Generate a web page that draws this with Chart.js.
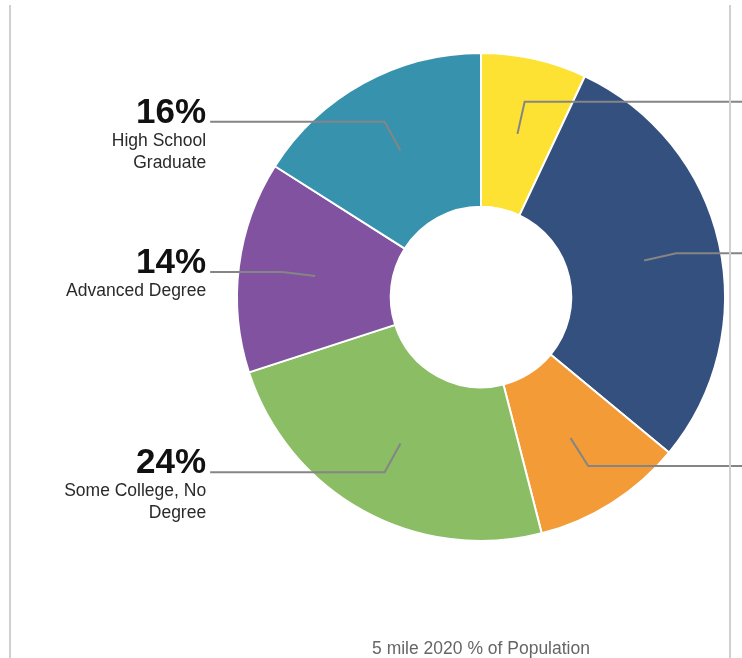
<!DOCTYPE html>
<html>
<head>
<meta charset="utf-8">
<script src="https://cdn.jsdelivr.net/npm/chart.js@4.4.0/dist/chart.umd.min.js"></script>
<style>
  html, body { margin: 0; padding: 0; background: #fff; overflow: hidden; }
  #wrap { position: relative; width: 742px; height: 658px; }
  #frame {
    position: absolute; left: 9px; top: 5px; width: 718px; height: 660px;
    border-left: 2px solid #d0d0d0; border-right: 2px solid #d0d0d0;
    pointer-events: none;
  }
</style>
</head>
<body>
<div id="wrap">
  <canvas id="eduChart" width="742" height="658"></canvas>
  <div id="frame"></div>
</div>
<script>
var categories = ['Associate Degree', "Bachelor's Degree", 'Less Than High School',
                  'Some College, No Degree', 'Advanced Degree', 'High School Graduate'];
var labelLines = [['Associate Degree'], ["Bachelor's Degree"], ['Less Than High', 'School'],
                  ['Some College, No', 'Degree'], ['Advanced Degree'], ['High School', 'Graduate']];
var shares = [7, 29, 10, 24, 14, 16];
var colors = ['#fee233', '#34507e', '#f39b36', '#8bbd64', '#8152a0', '#3792ae'];
var chartTitle = '5 mile 2020 % of Population';

var leaderPlugin = {
    id: 'leaders',
    afterDatasetsDraw: function (chart) {
        var ctx = chart.ctx;
        var arcs = chart.getDatasetMeta(0).data;
        ctx.save();
        for (var i = 0; i < arcs.length; i++) {
            var a = arcs[i];
            var mid = (a.startAngle + a.endAngle) / 2;
            var r0 = (a.innerRadius + a.outerRadius) / 2;
            var r1 = a.outerRadius * 0.82;
            var x0 = a.x + Math.cos(mid) * r0, y0 = a.y + Math.sin(mid) * r0;
            var x1 = a.x + Math.cos(mid) * r1, y1 = a.y + Math.sin(mid) * r1;
            var right = Math.cos(mid) >= 0;
            var x2 = right ? a.x + a.outerRadius * 1.11 : a.x - a.outerRadius * 1.11;

            ctx.strokeStyle = '#858585';
            ctx.lineWidth = 2;
            ctx.beginPath();
            ctx.moveTo(x0, y0);
            ctx.lineTo(x1, y1);
            ctx.lineTo(x2, y1);
            ctx.stroke();

            var tx = right ? x2 + 4 : x2 - 4;
            ctx.textAlign = right ? 'left' : 'right';
            ctx.textBaseline = 'alphabetic';
            ctx.fillStyle = '#111';
            ctx.font = 'bold 35px "Liberation Sans", Arial, sans-serif';
            ctx.fillText(shares[i] + '%', tx, y1 + 1);
            ctx.fillStyle = '#2a2a2a';
            ctx.font = '17.5px "Liberation Sans", Arial, sans-serif';
            var lines = labelLines[i];
            for (var j = 0; j < lines.length; j++) {
                ctx.fillText(lines[j], tx, y1 + 24 + j * 22);
            }
        }
        // caption under the ring
        ctx.fillStyle = '#666';
        ctx.textAlign = 'center';
        ctx.font = '17.5px "Liberation Sans", Arial, sans-serif';
        ctx.fillText(chartTitle, arcs[0].x, 654);
        ctx.restore();
    }
};

var ctx = document.getElementById('eduChart').getContext('2d');
var eduChart = new Chart(ctx, {
    type: 'doughnut',
    data: {
        labels: categories,
        datasets: [{
            data: shares,
            backgroundColor: colors,
            borderColor: '#ffffff',
            borderWidth: 2,
            hoverOffset: 0
        }]
    },
    options: {
        responsive: false,
        animation: false,
        cutout: '37%',
        layout: {
            padding: { left: 236, right: 16, top: 52, bottom: 116 }
        },
        plugins: {
            legend: { display: false },
            tooltip: { enabled: false }
        }
    },
    plugins: [leaderPlugin]
});
</script>
</body>
</html>
